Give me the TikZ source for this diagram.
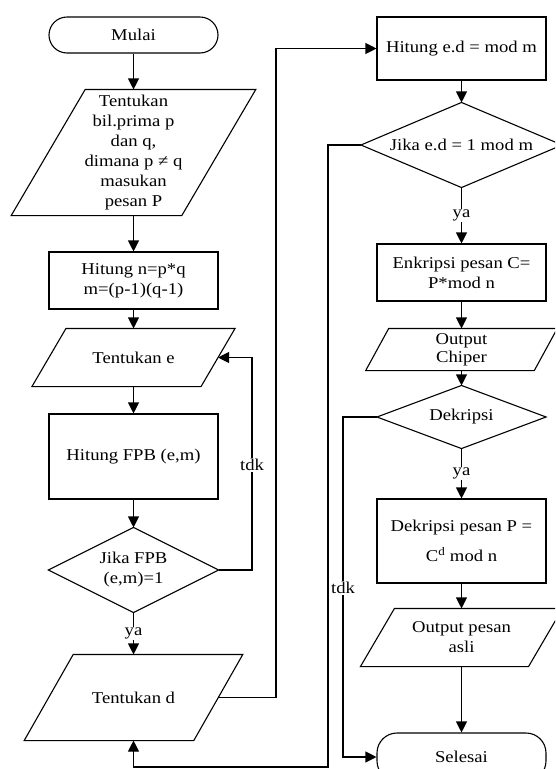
\documentclass[tikz,border=0pt]{standalone}
\usepackage{fontspec}
\setmainfont{Liberation Serif}[FakeStretch=1.13]
\usetikzlibrary{arrows.meta}
\begin{document}
\begin{tikzpicture}[x=1pt,y=-1pt,
  line width=1.1pt,
  font=\fontsize{16.5}{20}\selectfont,
  box/.style={draw, rectangle, minimum width=169pt, inner sep=0pt, align=center},
  ghost/.style={rectangle, inner sep=0pt, align=center},
  term/.style={draw, rectangle, rounded corners=18pt, minimum width=169pt, inner sep=0pt, align=center},
  arr/.style={-{Triangle[length=11pt,width=11pt]}},
  lbl/.style={fill=white, inner sep=1pt}
]
\useasboundingbox (0,0) rectangle (555,769);
\clip (0,0) rectangle (555,769);

% ---- left column ----
\node[term, minimum height=36pt] (mulai) at (133.5,35) {Mulai};

\node[ghost, minimum width=169.5pt, minimum height=125pt] (p1) at (133.5,152.5)
  {Tentukan\\bil.prima p\\dan q,\\dimana p ≠ q\\masukan\\pesan P};
\draw ([xshift=37pt]p1.north west) -- ([xshift=37pt]p1.north east)
   -- ([xshift=-37pt]p1.south east) -- ([xshift=-37pt]p1.south west) -- cycle;

\node[box, minimum height=57pt] (r1) at (133.5,280.5) {Hitung n=p*q\\m=(p-1)(q-1)};

\node[ghost, minimum width=168pt, minimum height=57pt] (p2) at (133.5,357.5) {Tentukan e};
\draw ([xshift=17pt]p2.north west) -- ([xshift=17pt]p2.north east)
   -- ([xshift=-17pt]p2.south east) -- ([xshift=-17pt]p2.south west) -- cycle;

\node[box, minimum height=85pt] (r2) at (133.5,456.5) {Hitung FPB (e,m)};

\node[ghost, minimum width=169pt, minimum height=84pt] (d1) at (133.5,570) {Jika FPB\\(e,m)=1};
\draw (d1.north) -- (d1.east) -- (d1.south) -- (d1.west) -- cycle;

\node[ghost, minimum width=168.5pt, minimum height=85pt] (p3) at (133.5,697.5) {Tentukan d};
\draw ([xshift=24.5pt]p3.north west) -- ([xshift=24.5pt]p3.north east)
   -- ([xshift=-24.5pt]p3.south east) -- ([xshift=-24.5pt]p3.south west) -- cycle;

% ---- right column ----
\node[box, minimum height=63pt] (r3) at (461.5,48.5) {Hitung e.d = mod m};

\node[ghost, minimum width=200pt, minimum height=84pt] (d2) at (461.5,145) {Jika e.d = 1 mod m};
\draw (d2.north) -- (d2.east) -- (d2.south) -- (d2.west) -- cycle;

\node[box, minimum height=57pt] (r4) at (461.5,272.5) {Enkripsi pesan C=\\P*mod n};

\node[ghost, minimum width=167.5pt, minimum height=41pt, font=\fontsize{16.5}{18}\selectfont] (p4) at (461.5,349.5) {Output\\Chiper};
\draw ([xshift=11.5pt]p4.north west) -- ([xshift=11.5pt]p4.north east)
   -- ([xshift=-11.5pt]p4.south east) -- ([xshift=-11.5pt]p4.south west) -- cycle;

\node[ghost, minimum width=168pt, minimum height=62pt] (d3) at (461.5,417) {Dekripsi};
\draw (d3.north) -- (d3.east) -- (d3.south) -- (d3.west) -- cycle;

\node[box, minimum height=84pt, font=\fontsize{16.5}{30}\selectfont] (r5) at (461.5,541) {Dekripsi pesan P =\\C\textsuperscript{d} mod n};

\node[ghost, minimum width=167pt, minimum height=57pt] (p5) at (461.5,637.5) {Output pesan\\asli};
\draw ([xshift=17pt]p5.north west) -- ([xshift=17pt]p5.north east)
   -- ([xshift=-17pt]p5.south east) -- ([xshift=-17pt]p5.south west) -- cycle;

\node[term, minimum height=48pt, rounded corners=20pt] (sel) at (461.5,757) {Selesai};

% ---- connectors ----
\draw[arr] (mulai.south) -- (p1.north);
\draw[arr] (p1.south) -- (r1.north);
\draw[arr] (r1.south) -- (p2.north);
\draw[arr] (p2.south) -- (r2.north);
\draw[arr] (r2.south) -- (d1.north);
\coordinate (c1) at (252,570);
\draw[arr] (d1.east) -- (c1) |- (p2.east);
\node[lbl] at (252,465) {tdk};
\draw[arr] (d1.south) -- node[lbl, pos=0.5] {ya} (p3.north);

\coordinate (c2) at (276,48.5);
\draw[arr] (p3.east) -| (c2) -- (r3.west);

\draw[arr] (r3.south) -- (d2.north);
\coordinate (c3) at (328,767);
\draw[arr] (d2.west) -| (c3) -| (p3.south);
\draw[arr] (d2.south) -- node[lbl, pos=0.5] {ya} (r4.north);
\draw[arr] (r4.south) -- (p4.north);
\draw[arr] (p4.south) -- (d3.north);
\coordinate (c4) at (343,417);
\draw[arr] (d3.west) -- (c4) |- (sel.west);
\node[lbl] at (343,588) {tdk};
\draw[arr] (d3.south) -- node[lbl, pos=0.5] {ya} (r5.north);
\draw[arr] (r5.south) -- (p5.north);
\draw[arr] (p5.south) -- (sel.north);
\end{tikzpicture}
\end{document}
